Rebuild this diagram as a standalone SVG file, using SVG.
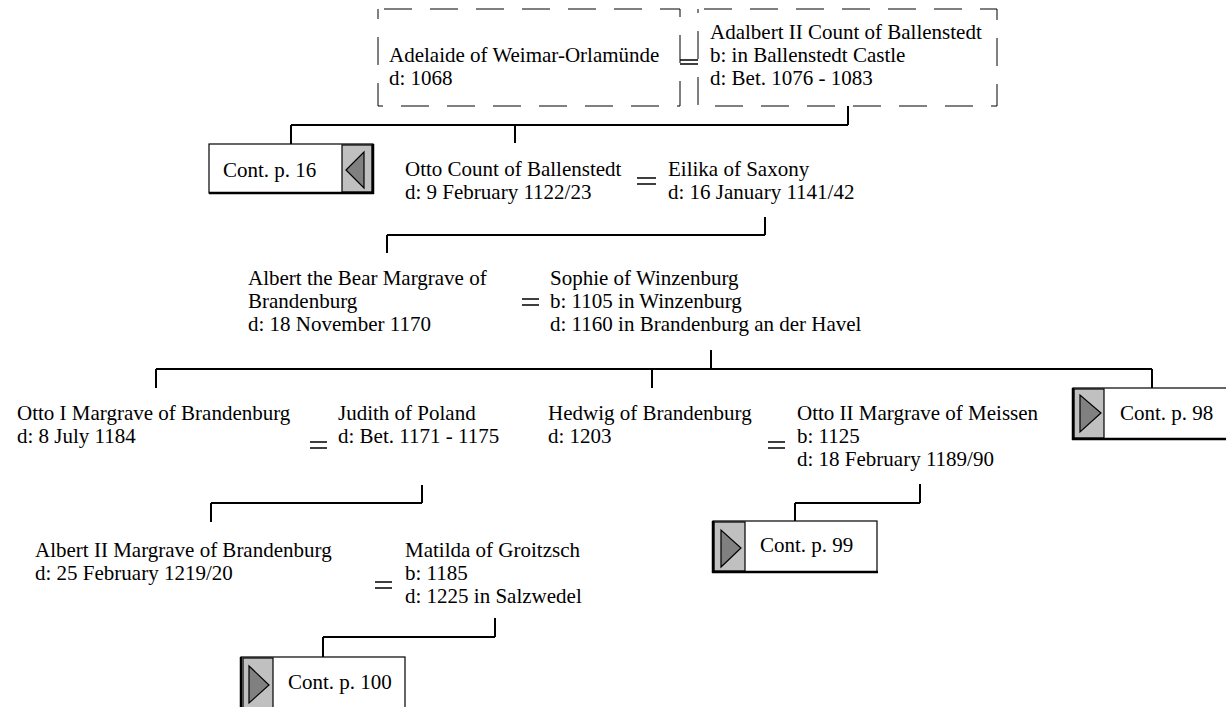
<svg xmlns="http://www.w3.org/2000/svg" width="1226" height="707" viewBox="0 0 1226 707">
<style>
text{font-family:"Liberation Serif","Times New Roman",serif;font-size:21px;fill:#000}
.dash{fill:#fff;stroke:#000;stroke-width:1;stroke-dasharray:28 18;stroke-dashoffset:-6}
.conn{fill:none;stroke:#000;stroke-width:2}
.eq{stroke:#000;stroke-width:1.5}
.cbox{fill:#fff;stroke:#000;stroke-width:1.2}
.cgray{fill:#c0c0c0;stroke:#000;stroke-width:1.2}
.tri{fill:#808080;stroke:#000;stroke-width:1.2}
.thick{stroke:#000;stroke-width:2.5}
</style>
<rect width="1226" height="707" fill="#fff"/>
<g id="connectors">
<path class="conn" d="M848 106V125M291 125H848M291 125V144M515 125V143"/>
<path class="conn" d="M765 217V235M387 235H765M387 235V253"/>
<path class="conn" d="M711 350V369M156 369H1152M156 369V388M652 369V388M1152 369V388"/>
<path class="conn" d="M422 485V503M211 503H422M211 503V522"/>
<path class="conn" d="M920 484V503M795 503H920M795 503V521"/>
<path class="conn" d="M495 618V637M323 637H495M323 637V657"/>
</g>
<g id="adelaide">
<rect class="dash" x="378" y="9" width="302" height="97"/>
<text x="389" y="62">Adelaide of Weimar-Orlamünde</text>
<text x="389" y="85">d: 1068</text>
</g>
<g id="adalbert">
<rect class="dash" x="698" y="9" width="299" height="97"/>
<text x="710" y="39">Adalbert II Count of Ballenstedt</text>
<text x="710" y="62">b: in Ballenstedt Castle</text>
<text x="710" y="85">d: Bet. 1076 - 1083</text>
</g>
<g id="eq1"><path class="eq" d="M680 60H698M680 64H698"/></g>
<g id="cont16">
<rect class="cbox" x="209" y="144" width="164" height="49"/>
<rect class="cgray" x="342" y="145" width="30" height="47"/>
<path class="thick" d="M373 144V194M209 193H374"/>
<polygon class="tri" points="346,170 364,152 364,188"/>
<text x="223" y="177">Cont. p. 16</text>
</g>
<g id="otto">
<text x="405" y="176">Otto Count of Ballenstedt</text>
<text x="405" y="199">d: 9 February 1122/23</text>
</g>
<g id="eq2"><path class="eq" d="M637 178H656M637 184H656"/></g>
<g id="eilika">
<text x="668" y="176">Eilika of Saxony</text>
<text x="668" y="199">d: 16 January 1141/42</text>
</g>
<g id="albert">
<text x="248" y="285">Albert the Bear Margrave of</text>
<text x="248" y="308">Brandenburg</text>
<text x="248" y="331">d: 18 November 1170</text>
</g>
<g id="eq3"><path class="eq" d="M522 299H539M522 305H539"/></g>
<g id="sophie">
<text x="550" y="285">Sophie of Winzenburg</text>
<text x="550" y="308">b: 1105 in Winzenburg</text>
<text x="550" y="331">d: 1160 in Brandenburg an der Havel</text>
</g>
<g id="otto1">
<text x="17" y="420">Otto I Margrave of Brandenburg</text>
<text x="17" y="443">d: 8 July 1184</text>
</g>
<g id="eq4"><path class="eq" d="M310 442H327M310 448H327"/></g>
<g id="judith">
<text x="338" y="420">Judith of Poland</text>
<text x="338" y="443">d: Bet. 1171 - 1175</text>
</g>
<g id="hedwig">
<text x="548" y="420">Hedwig of Brandenburg</text>
<text x="548" y="443">d: 1203</text>
</g>
<g id="eq5"><path class="eq" d="M768 442H785M768 448H785"/></g>
<g id="otto2">
<text x="797" y="420">Otto II Margrave of Meissen</text>
<text x="797" y="443">b: 1125</text>
<text x="797" y="466">d: 18 February 1189/90</text>
</g>
<g id="cont98">
<rect class="cbox" x="1073" y="388" width="165" height="51"/>
<rect class="cgray" x="1074" y="389" width="30" height="49"/>
<path class="thick" d="M1073 388V440M1072 439H1238"/>
<polygon class="tri" points="1080,395 1080,432 1101,413"/>
<text x="1120" y="420">Cont. p. 98</text>
</g>
<g id="cont99">
<rect class="cbox" x="713" y="521" width="164" height="51"/>
<rect class="cgray" x="714" y="522" width="31" height="49"/>
<path class="thick" d="M713 521V573M712 572H878"/>
<polygon class="tri" points="721,530 721,567 741,548"/>
<text x="760" y="552">Cont. p. 99</text>
</g>
<g id="albert2">
<text x="35" y="557">Albert II Margrave of Brandenburg</text>
<text x="35" y="580">d: 25 February 1219/20</text>
</g>
<g id="eq6"><path class="eq" d="M375 582H392M375 588H392"/></g>
<g id="matilda">
<text x="405" y="557">Matilda of Groitzsch</text>
<text x="405" y="580">b: 1185</text>
<text x="405" y="603">d: 1225 in Salzwedel</text>
</g>
<g id="cont100">
<rect class="cbox" x="241" y="657" width="164" height="60"/>
<rect class="cgray" x="243" y="658" width="30" height="55"/>
<path class="thick" d="M241 657V707"/>
<polygon class="tri" points="249,666 249,703 269,685"/>
<text x="288" y="689">Cont. p. 100</text>
</g>
</svg>
